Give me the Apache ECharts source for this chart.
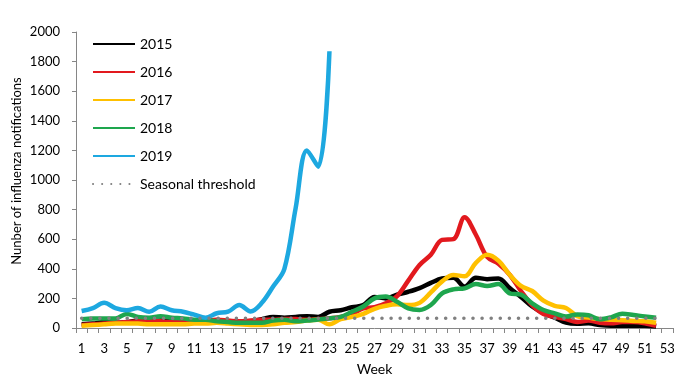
<!DOCTYPE html>
<html><head><meta charset="utf-8">
<script src="https://cdn.jsdelivr.net/npm/echarts@6/dist/echarts.min.js"></script>
<style>html,body{margin:0;padding:0;background:#fff}#c{width:687px;height:379px}</style>
</head><body><div id="c"></div>
<script>
const weeks = ['1','2','3','4','5','6','7','8','9','10','11','12','13','14','15','16','17','18','19','20','21','22','23','24','25','26','27','28','29','30','31','32','33','34','35','36','37','38','39','40','41','42','43','44','45','46','47','48','49','50','51','52','53'];
const y2015 = [25,30,40,35,40,50,45,50,45,35,40,45,50,45,40,45,60,75,70,75,80,75,110,120,140,155,210,200,225,245,270,305,335,340,280,340,330,335,270,210,145,100,70,36,28,32,20,15,15,15,15,10];
const y2016 = [20,25,30,35,40,45,50,45,40,40,45,50,55,50,45,50,55,55,60,60,55,60,65,75,95,133,140,167,215,320,426,495,595,600,748,630,480,435,360,250,155,95,75,60,40,50,36,32,40,40,32,15];
const y2017 = [15,20,25,30,30,30,25,25,25,25,30,30,35,30,25,20,20,25,35,40,50,55,25,60,75,95,130,150,160,155,170,240,315,358,350,440,495,455,360,285,250,185,150,135,80,70,60,55,52,48,45,35];
const y2018 = [60,65,65,65,95,75,70,80,70,65,55,55,45,40,35,35,35,50,55,45,50,58,65,75,110,145,200,212,178,133,122,155,234,261,268,297,284,297,234,225,167,122,99,77,92,86,59,72,97,88,78,70];
const y2019 = [115,135,170,135,120,135,110,145,120,110,90,70,100,110,155,112,170,280,400,810,1200,1090,1870];
const threshold = [66,66,66,66,66,66,66,66,66,66,66,66,66,66,66,66,66,66,66,66,66,66,66,66,66,66,66,66,66,66,66,66,66,66,66,66,66,66,66,66,66,66,66,66,66,66,66,66,66,66,66,66];
const seriesNames = ['2015','2016','2017','2018','2019'];
const seriesColors = ['#000000','#E2191E','#FFC000','#1EA64E','#1DA8E0'];
const yTitle = 'Nunber of influenza notifications';
const FONT = 'Lato';
const chart = echarts.init(document.getElementById('c'));
const data = [y2015,y2016,y2017,y2018,y2019];
const series = data.map((d,i)=>({
  name: seriesNames[i], type:'line', data:d, symbol:'none', smooth:0.35,
  lineStyle:{width:4.5,color:seriesColors[i]}, itemStyle:{color:seriesColors[i]}
}));
series.push({
  name:'Seasonal threshold', type:'line', data:threshold, symbol:'none',
  lineStyle:{width:3.5,color:'#808080',type:[0.1,9],cap:'round'}, itemStyle:{color:'#808080'}
});
chart.setOption({
  animation:false,
  textStyle:{fontFamily:FONT},
  grid:{left:76,right:14,top:32,bottom:51,outerBoundsMode:'none',containLabel:false},
  legend:{orient:'vertical',left:92,top:37,padding:0,itemWidth:42,itemHeight:14,itemGap:14,
    itemStyle:{opacity:0},
    textStyle:{fontSize:14,color:'#000',fontFamily:FONT},
    data:['2015','2016','2017','2018','2019','Seasonal threshold']},
  graphic:[{type:'text',x:17,y:171,rotation:Math.PI/2,silent:true,
    style:{text:yTitle,fontSize:13,fontFamily:FONT,fill:'#000',align:'center',verticalAlign:'middle'}}],
  xAxis:{type:'category',data:weeks,boundaryGap:true,
    name:'Week',nameLocation:'middle',nameGap:34,nameTextStyle:{fontSize:14,color:'#000',fontFamily:FONT},
    axisLine:{lineStyle:{color:'#868686',width:1}},
    axisTick:{show:true,interval:0,length:5,lineStyle:{color:'#868686'}},
    axisLabel:{interval:1,fontSize:13,color:'#000',margin:14,fontFamily:FONT}},
  yAxis:{type:'value',min:0,max:2000,interval:200,
    axisLine:{show:true,lineStyle:{color:'#868686',width:1}},
    axisTick:{show:true,length:4,lineStyle:{color:'#868686'}},
    splitLine:{show:false},
    axisLabel:{fontSize:13,color:'#000',margin:16,fontFamily:FONT,formatter:v=>String(v)}},
  series:series
});
</script></body></html>
